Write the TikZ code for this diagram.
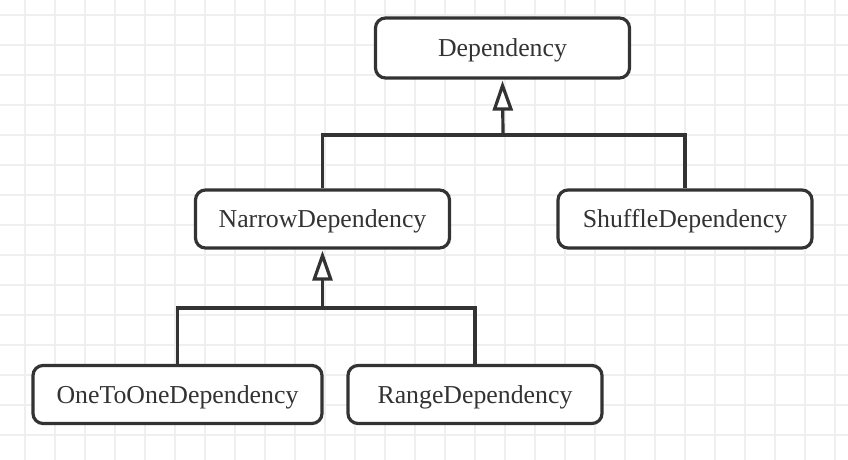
\documentclass[tikz,border=0pt]{standalone}
\usepackage{fontspec}
\setmainfont{Liberation Serif}
\usetikzlibrary{arrows.meta, positioning}
\definecolor{GridGray}{HTML}{EFEFEF}
\definecolor{Ink}{HTML}{333333}
\tikzset{
    classbox/.style={rectangle, rounded corners=5pt, draw=Ink, line width=1.6pt,
          fill=white, text=Ink, font=\fontsize{12.9}{15}\selectfont,
          text height=9pt, text depth=0pt,
          minimum width=127pt, minimum height=29pt, inner sep=0pt},
    gridline/.style={GridGray, line width=0.8pt},
    link/.style={Ink, line width=1.6pt},
    inherit/.style={link, -{Triangle[length=15pt, width=10pt, fill=white, line width=1.6pt]}, shorten >=0.5pt}
}

\begin{document}
\begin{tikzpicture}[x=0.5pt, y=-0.5pt]
    \useasboundingbox (0,0) rectangle (848,460);
    % Grid
    \fill[white] (0,0) rectangle (848,460);
    \foreach \x in {25,55,...,835} \draw[gridline] (\x,0) -- (\x,460);
    \foreach \y in {15,45,...,455} \draw[gridline] (0,\y) -- (848,\y);

    % Classes
    \node[classbox, minimum height=30pt] (dep) at (502.5,48) {Dependency};
    \node[classbox] (nar) at (322.5,219) {NarrowDependency};
    \node[classbox] (shf) at (685,219) {ShuffleDependency};
    \node[classbox, minimum width=144.5pt] (one) at (177.5,394.5) {OneToOneDependency};
    \node[classbox] (rng) at (475,394.5) {RangeDependency};

    % Inheritance
    \coordinate (bus1) at (503,135);
    \coordinate (bus2) at (322.5,308);
    \draw[link] (nar.north) |- (bus1) -| (shf.north);
    \draw[inherit] (bus1) -- (dep.south);
    \draw[link] (one.north) |- (bus2) -| (rng.north);
    \draw[inherit] (bus2) -- (nar.south);
\end{tikzpicture}
\end{document}
